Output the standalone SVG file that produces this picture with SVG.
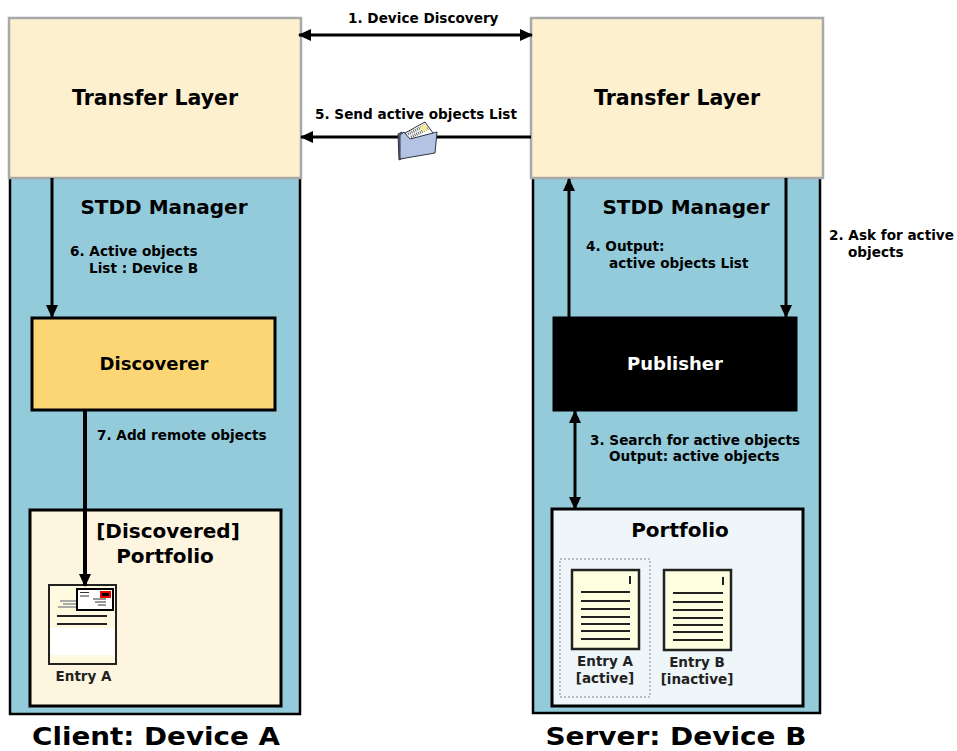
<svg xmlns="http://www.w3.org/2000/svg" width="957" height="751" viewBox="0 0 957 751">
<style>
text{font-family:"DejaVu Sans",Verdana,sans-serif;font-weight:700;fill:#000}
.s{font-size:13.6px}
.m{font-size:20px}
.h{font-size:20.500px}
.t{font-size:25px}
.e{font-size:13.500px;fill:#222}
.mgr{fill:#93cbdb;stroke:#000;stroke-width:2.500}
.tl{fill:#fdf0cf;stroke:#a8a8a8;stroke-width:2.500}
.box{stroke:#000;stroke-width:3}
.ln{stroke:#000;stroke-width:3;fill:none}
.dl{stroke:#222;stroke-width:2;fill:none}
.doc{fill:#fefee0;stroke:#222;stroke-width:2.500}
</style>
<defs>
<marker id="a" markerUnits="userSpaceOnUse" markerWidth="14" markerHeight="14" refX="12" refY="6" orient="auto-start-reverse"><path d="M0 0L13 6L0 12z" fill="#000"/></marker>
</defs>
<rect width="957" height="751" fill="#fff"/>
<g id="client-manager"><rect class="mgr" x="10" y="176" width="290" height="538"/><text class="m" x="164" y="214" text-anchor="middle">STDD Manager</text></g>
<g id="server-manager"><rect class="mgr" x="533" y="176" width="287" height="537"/><text class="m" x="686" y="214" text-anchor="middle">STDD Manager</text></g>
<g id="client-transfer"><rect class="tl" x="9" y="18" width="292" height="160"/><text class="h" x="155" y="105" text-anchor="middle">Transfer Layer</text></g>
<g id="server-transfer"><rect class="tl" x="531" y="18" width="292" height="160"/><text class="h" x="677" y="105" text-anchor="middle">Transfer Layer</text></g>
<g id="discoverer"><rect class="box" x="32" y="318" width="243" height="92" fill="#fcd675"/><text x="154" y="370" text-anchor="middle" font-size="18">Discoverer</text></g>
<g id="publisher"><rect class="box" x="554" y="318" width="242" height="92" fill="#000"/><text x="675" y="370" text-anchor="middle" font-size="18" style="fill:#fff">Publisher</text></g>
<g id="client-portfolio"><rect class="box" x="30" y="510" width="251" height="196" fill="#fef5e1"/><text class="m" x="168" y="538" text-anchor="middle">[Discovered]</text><text class="m" x="165" y="563" text-anchor="middle">Portfolio</text></g>
<g id="server-portfolio"><rect class="box" x="552" y="509" width="251" height="197" fill="#eef6fa"/><text class="m" x="680" y="537" text-anchor="middle">Portfolio</text></g>
<g id="entry-a-client">
<rect x="49" y="585" width="67" height="79" fill="#fefae0" stroke="#222" stroke-width="2"/>
<rect x="51" y="628" width="63" height="27" fill="#fff"/>
<path d="M57 616H107M57 624H107" class="dl" stroke-width="1.500"/>
<path d="M60 601H80M63 604H80M58 607H80" stroke="#aaa" stroke-width="2" fill="none"/>
<rect x="77" y="589" width="36" height="21" fill="#fff" stroke="#000" stroke-width="2"/>
<rect x="100" y="591" width="11" height="7" fill="#e00"/><rect x="102" y="593" width="7" height="3" fill="#000"/>
<path d="M80 592.500H89M80 596H89M93 599H106M95 602H106M98 605H106" stroke="#333" stroke-width="1.200"/>
<text class="e" x="83.500" y="681" text-anchor="middle">Entry A</text>
</g>
<g id="entry-a-server">
<rect x="560" y="559" width="90" height="138" fill="none" stroke="#888" stroke-width="1" stroke-dasharray="2 2"/>
<rect class="doc" x="572" y="570" width="67" height="79"/>
<path class="dl" d="M630 576V584M581 592H630M581 601H630M581 609H630M581 617H630M581 624H630M581 631H630M581 639H630"/>
<text class="e" x="605" y="666" text-anchor="middle">Entry A</text>
<text class="e" x="605" y="683" text-anchor="middle">[active]</text>
</g>
<g id="entry-b-server">
<rect class="doc" x="664" y="570" width="67" height="80"/>
<path class="dl" d="M723 577V585M673 593H723M673 602H723M673 610H723M673 618H723M673 625H723M673 632H723M673 640H723"/>
<text class="e" x="697" y="667" text-anchor="middle">Entry B</text>
<text class="e" x="697" y="684" text-anchor="middle">[inactive]</text>
</g>
<g id="connectors">
<path class="ln" d="M299 35H532" marker-start="url(#a)" marker-end="url(#a)"/>
<path class="ln" d="M531 137H301" marker-end="url(#a)"/>
<path class="ln" d="M52 178V317" marker-end="url(#a)"/>
<path class="ln" d="M569 317V179" marker-end="url(#a)"/>
<path class="ln" d="M786 178V317" marker-end="url(#a)"/>
<path class="ln" d="M575 411V509" marker-start="url(#a)" marker-end="url(#a)"/>
<path class="ln" style="stroke-width:4" d="M85 410V586" marker-end="url(#a)"/>
</g>
<g id="folder">
<path d="M405 133L425 122L433 133L415 150z" fill="#fff" stroke="#333"/>
<path d="M408 134L426 125M411 137L429 128" stroke="#666" stroke-width="3" stroke-dasharray="1 1"/>
<path d="M420 127L425 124L428 130L423 132z" fill="#f4ee90"/>
<path d="M398 134L402 132L407 156L399 160z" fill="#5a6f96" stroke="#333"/>
<path d="M400 135L404 132L410 139L437 132L435 153L400 159z" fill="#b3c3e3" stroke="#334" stroke-width="1"/>
</g>
<g id="labels">
<text class="s" x="348" y="23">1. Device Discovery</text>
<text class="s" x="829" y="240">2. Ask for active</text>
<text class="s" x="848" y="257">objects</text>
<text class="s" x="590" y="445">3. Search for active objects</text>
<text class="s" x="609" y="461">Output: active objects</text>
<text class="s" x="586" y="251">4. Output:</text>
<text class="s" x="609" y="268">active objects List</text>
<text class="s" x="315" y="119">5. Send active objects List</text>
<text class="s" x="70" y="256">6. Active objects</text>
<text class="s" x="89" y="273">List : Device B</text>
<text class="s" x="97" y="440">7. Add remote objects</text>
<text class="t" x="156" y="745" text-anchor="middle" textLength="248" lengthAdjust="spacingAndGlyphs">Client: Device A</text>
<text class="t" x="676" y="745" text-anchor="middle" textLength="261" lengthAdjust="spacingAndGlyphs">Server: Device B</text>
</g>
</svg>
